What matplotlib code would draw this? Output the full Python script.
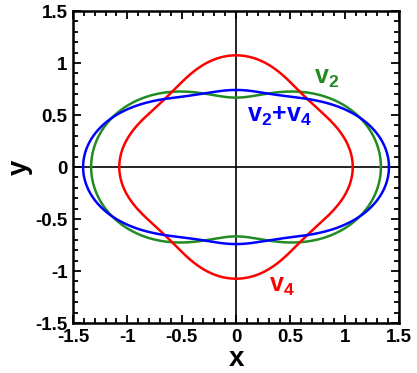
import numpy as np
import matplotlib
matplotlib.use("Agg")
import matplotlib.pyplot as plt

plt.rcParams['font.family'] = ['Liberation Sans', 'DejaVu Sans']
plt.rcParams['font.weight'] = 'bold'
plt.rcParams['mathtext.fontset'] = 'custom'
plt.rcParams['mathtext.rm'] = 'Liberation Sans:bold'
plt.rcParams['mathtext.it'] = 'Liberation Sans:bold'
plt.rcParams['mathtext.bf'] = 'Liberation Sans:bold'

# Flow harmonic shape parameters: r(phi) = r0 * (1 + a2 cos 2phi + a4 cos 4phi)
r0 = 1.0
series_names = ["v2", "v4", "v2+v4"]
a2_coef = [0.333, 0.0, 0.333]
a4_coef = [0.0, 0.074, 0.074]
colors = ["#228B22", "#FF0000", "#0000FF"]

ticks = [-1.5, -1, -0.5, 0, 0.5, 1, 1.5]
tick_labels = ["-1.5", "-1", "-0.5", "0", "0.5", "1", "1.5"]

fig = plt.figure(figsize=(4.17, 3.73), dpi=100)
ax = fig.add_axes([0.175, 0.134, 0.782, 0.8365])

phi = np.linspace(0, 2 * np.pi, 721)
for a2, a4, c in zip(a2_coef, a4_coef, colors):
    r = r0 * (1 + a2 * np.cos(2 * phi) + a4 * np.cos(4 * phi))
    ax.plot(r * np.cos(phi), r * np.sin(phi), color=c, lw=1.8, zorder=3)

ax.axhline(0, color='black', lw=1.2, zorder=2)
ax.axvline(0, color='black', lw=1.2, zorder=2)

ax.set_xlim(-1.5, 1.5)
ax.set_ylim(-1.5, 1.5)
ax.set_xticks(ticks)
ax.set_xticklabels(tick_labels)
ax.set_yticks(ticks)
ax.set_yticklabels(tick_labels)
ax.set_xticks(np.arange(-1.5, 1.51, 0.1), minor=True)
ax.set_yticks(np.arange(-1.5, 1.51, 0.1), minor=True)
ax.tick_params(which='both', direction='in', top=True, right=True, width=1.3)
ax.tick_params(which='major', length=6, labelsize=13.5, pad=4)
ax.tick_params(which='minor', length=3.5)
for s in ax.spines.values():
    s.set_linewidth(1.8)

ax.set_xlabel('x', fontsize=20, fontweight='bold', labelpad=0)
ax.set_ylabel('y', fontsize=20, fontweight='bold', labelpad=2)

ax.text(0.72, 0.8, r'v$_2$', color=colors[0], fontsize=18, fontweight='bold')
ax.text(0.10, 0.43, r'v$_2$+v$_4$', color=colors[2], fontsize=18, fontweight='bold')
ax.text(0.30, -1.2, r'v$_4$', color=colors[1], fontsize=18, fontweight='bold')

fig.savefig('out.png', dpi=100)
